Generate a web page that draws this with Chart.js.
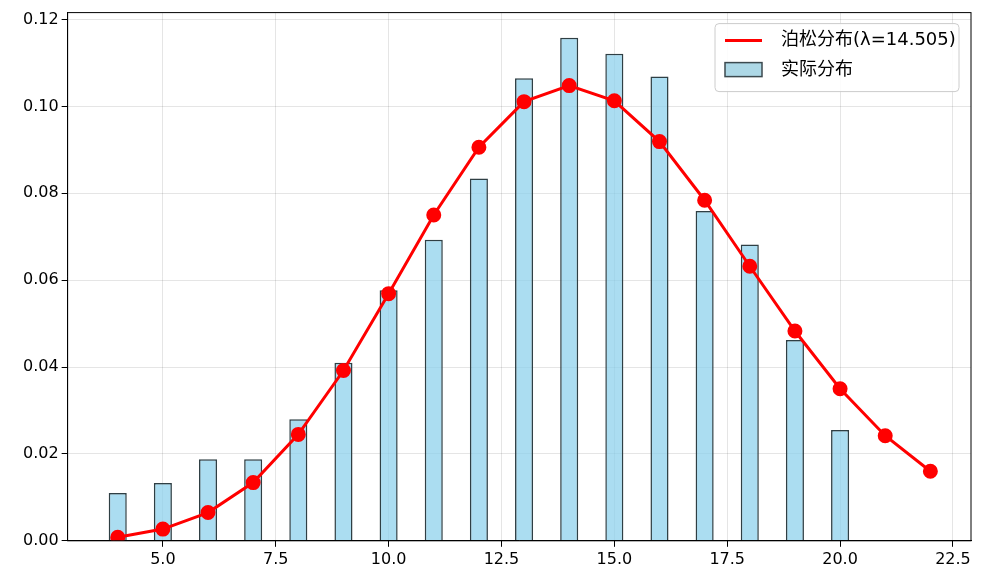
<!DOCTYPE html>
<html><head><meta charset="utf-8">
<script src="https://cdn.jsdelivr.net/npm/chart.js@4"></script>
<style>body{margin:0;background:#fff}#w{width:985px;height:580px}</style></head>
<body><div id="w"><canvas id="c"></canvas></div>
<script>
const barX=[4,5,6,7,8,9,10,11,12,13,14,15,16,17,18,19,20];
const barY=[0.011,0.0133,0.0188,0.0188,0.028,0.041,0.0577,0.0693,0.0834,0.1065,0.1158,0.1121,0.1069,0.0759,0.0682,0.0462,0.0255];
const poisX=[4,5,6,7,8,9,10,11,12,13,14,15,16,17,18,19,20,21,22];
const poisY=[0.0008,0.0027,0.0065,0.0134,0.0245,0.0392,0.0569,0.0750,0.0906,0.1011,0.1048,0.1013,0.0919,0.0784,0.0632,0.0483,0.0350,0.0242,0.0160];
const xTicks=[5,7.5,10,12.5,15,17.5,20,22.5];
const yTicks=[0,0.02,0.04,0.06,0.08,0.10,0.12];
const lineLabel='泊松分布(λ=14.505)', barLabel='实际分布';
const F='"DejaVu Sans","Noto Sans CJK SC",sans-serif';
const frame={id:'frame',afterDraw(ch){const a=ch.chartArea,c=ch.ctx;c.save();c.strokeStyle='#000';c.lineWidth=1;c.strokeRect(a.left,a.top,a.right-a.left,a.bottom-a.top);
 const x=a.right-256,y=a.top+11,w=244,h=68;c.fillStyle='rgba(255,255,255,0.85)';c.strokeStyle='#ccc';c.beginPath();c.roundRect(x,y,w,h,4);c.fill();c.stroke();
 c.strokeStyle='red';c.lineWidth=3;c.beginPath();c.moveTo(x+10,y+17);c.lineTo(x+47,y+17);c.stroke();
 c.fillStyle='#add8e6';c.strokeStyle='#3c4a4f';c.lineWidth=1.5;c.fillRect(x+10,y+39,37,14);c.strokeRect(x+10,y+39,37,14);
 c.fillStyle='#000';c.font='18px '+F;c.textBaseline='middle';c.fillText(lineLabel,x+66,y+17);c.fillText(barLabel,x+66,y+47);c.restore();}};
new Chart(document.getElementById('c'),{
 data:{datasets:[
  {type:'line',label:lineLabel,data:poisX.map((x,i)=>({x,y:poisY[i]})),borderColor:'red',backgroundColor:'red',borderWidth:3,pointRadius:6,pointHoverRadius:6,order:0},
  {type:'bar',label:barLabel,data:barX.map((x,i)=>({x,y:barY[i]})),backgroundColor:'rgba(135,206,235,0.7)',borderColor:'#2f3f44',borderWidth:1.5,barPercentage:0.4,categoryPercentage:1,order:1}
 ]},
 options:{responsive:true,maintainAspectRatio:false,animation:false,
  layout:{padding:{top:0,right:14,bottom:8,left:20}},
  plugins:{legend:{display:false},tooltip:{enabled:false}},
  scales:{
   x:{type:'linear',offset:false,min:2.89,max:22.9,grid:{offset:false,color:'rgba(0,0,0,0.1)',drawTicks:true,tickColor:'#000',tickLength:6},border:{color:'#000'},
     afterBuildTicks:s=>{s.ticks=xTicks.map(v=>({value:v}))},ticks:{color:'#000',font:{size:16,family:F},callback:v=>v.toFixed(1),maxRotation:0}},
   y:{min:0,max:0.1216,grid:{color:'rgba(0,0,0,0.1)',tickColor:'#000',tickLength:6},border:{color:'#000'},
     afterBuildTicks:s=>{s.ticks=yTicks.map(v=>({value:v}))},ticks:{color:'#000',font:{size:16,family:F},callback:v=>v.toFixed(2)}}
  }},
 plugins:[frame]});
</script></body></html>
